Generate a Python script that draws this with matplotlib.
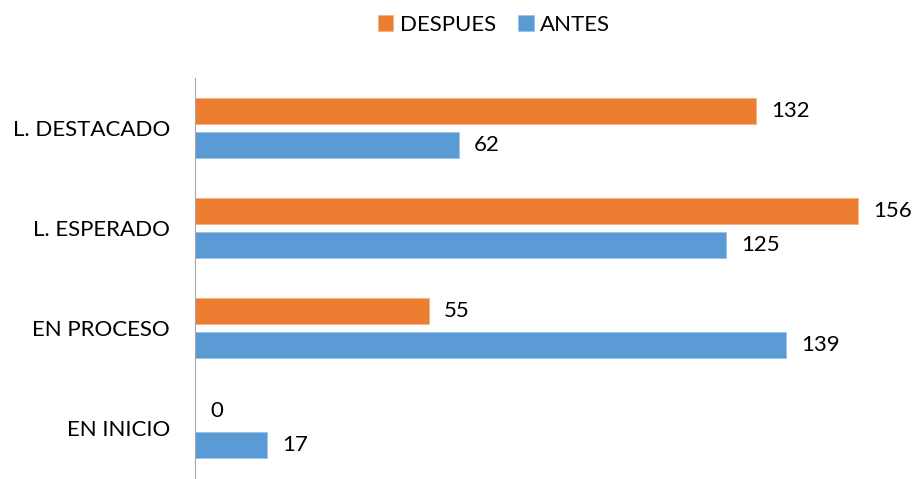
import numpy as np
import matplotlib.pyplot as plt

plt.rcParams['font.family'] = ['Lato', 'DejaVu Sans']

categorias = ["EN INICIO", "EN PROCESO", "L. ESPERADO", "L. DESTACADO"]
antes = [17, 139, 125, 62]
despues = [0, 55, 156, 132]

fig = plt.figure(figsize=(9.18, 4.79), dpi=100)
ax = fig.add_axes([195/918, 1/479, 1 - 195/918 - 0.005, 400/479])

y = np.arange(len(categorias))
h = 0.26
b1 = ax.barh(y - 0.17, antes, height=h, color='#5B9BD5', edgecolor='#9DC3E6', linewidth=0.6, label='ANTES')
b2 = ax.barh(y + 0.17, despues, height=h, color='#ED7D31', edgecolor='#F4B183', linewidth=0.6, label='DESPUES')

for bars, vals in ((b1, antes), (b2, despues)):
    for r, v in zip(bars, vals):
        ax.annotate(str(v), (v, r.get_y() + r.get_height() / 2), xytext=(11, 0),
                    textcoords='offset points', va='center', ha='left', fontsize=16)

ax.set_xlim(0, 169)
ax.set_ylim(-0.5, 3.5)
ax.set_yticks(y)
ax.set_yticklabels(categorias, fontsize=16)
ax.tick_params(axis='y', length=0, pad=18)
ax.set_xticks([])
for s in ['top', 'right', 'bottom']:
    ax.spines[s].set_visible(False)
ax.spines['left'].set_color('#A6A6A6')

handles, labels = ax.get_legend_handles_labels()
fig.legend(handles[::-1], labels[::-1], loc='center', bbox_to_anchor=(494/918, 1 - 25/479),
           ncol=2, frameon=False, fontsize=16, handlelength=0.7, handleheight=0.7,
           handletextpad=0.3, columnspacing=1.0)

fig.savefig('out.png')
